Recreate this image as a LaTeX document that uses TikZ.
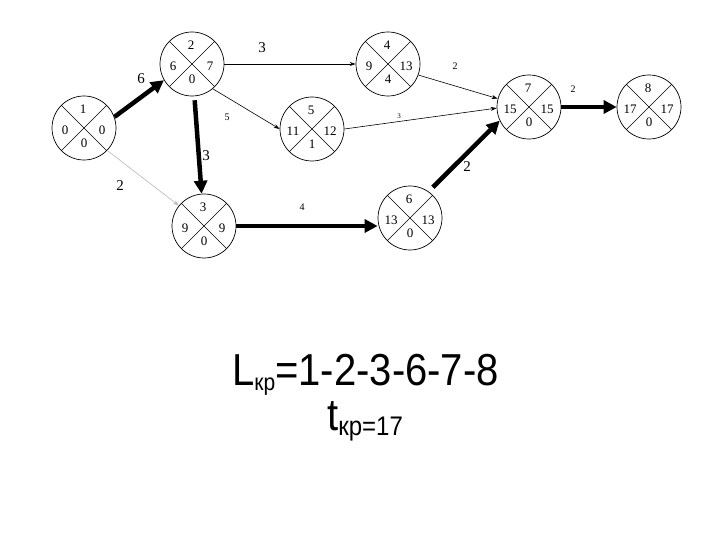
\documentclass[tikz,border=0pt]{standalone}
\usepackage{fontspec}
\setmainfont{Liberation Serif}
\newfontfamily\arialfont{Liberation Sans}
\usetikzlibrary{arrows.meta, calc}
\tikzset{
  event/.style    = {circle, draw, line width=0.7pt, minimum size=64pt, inner sep=0pt},
  evlbl/.style    = {font=\fontsize{13}{13}\selectfont, inner sep=0pt},
  work/.style     = {line width=0.6pt, -{Stealth[length=6pt, width=4pt]}},
  critwork/.style = {line width=4.5pt, -{Triangle[length=13pt, width=13pt]}},
  wlbl/.style     = {font=\fontsize{10}{10}\selectfont, inner sep=0pt},
  bigwlbl/.style  = {font=\fontsize{15}{15}\selectfont, inner sep=0pt},
  tinywlbl/.style = {font=\fontsize{7}{7}\selectfont, inner sep=0pt},
}
% event circle: name, position, number, early, late, reserve
\newcommand{\evnode}[6]{%
  \node[event] (#1) at (#2) {};
  \draw[line width=0.6pt] (#1.north west) -- (#1.south east)
                          (#1.north east) -- (#1.south west);
  \node[evlbl] (#1-n) at ($(#1)+(-1,-19)$) {#3};
  \node[evlbl] (#1-e) at ($(#1)+(-19,2)$) {#4};
  \node[evlbl] (#1-l) at ($(#1)+(18,2)$) {#5};
  \node[evlbl] (#1-r) at ($(#1)+(0,15)$) {#6};
}

\begin{document}
\begin{tikzpicture}[x=1pt, y=-1pt]
  \useasboundingbox[fill=white] (0,0) rectangle (720,540);
  % events
  \evnode{n1}{84,128}{1}{0}{0}{0}
  \evnode{n2}{192,64}{2}{6}{7}{0}
  \evnode{n3}{204,226}{3}{9}{9}{0}
  \evnode{n4}{388,64}{4}{9}{13}{4}
  \evnode{n5}{312,129}{5}{11}{12}{1}
  \evnode{n6}{410,218}{6}{13}{13}{0}
  \evnode{n7}{529,107}{7}{15}{15}{0}
  \evnode{n8}{649,107}{8}{17}{17}{0}
  % critical path
  \draw[critwork] (n1.20) -- (n2.210);
  \draw[critwork, shorten <=4pt] (n2) -- (n3);
  \draw[critwork] (n3.east) -- (n3.east -| n6.west);
  \draw[critwork, shorten <=6pt] (n6.55) -- (n7.205);
  \draw[critwork] (n7) -- (n8);
  % other works
  \draw[work] (n2) -- (n4);
  \draw[work] (n2.-50) -- (n5.west);
  \draw[work, gray!55] (n1.-44) -- (n3.141);
  \draw[work] (n4.-20) -- (n7.165);
  \draw[work] (n5.east) -- (n7.182);
  % durations
  \node[bigwlbl] (d12) at (141,79) {6};
  \node[bigwlbl] (d24) at (262,48) {3};
  \node[wlbl] (d25) at (227,117) {5};
  \node[bigwlbl] (d23) at (206,156) {3};
  \node[bigwlbl] (d13) at (120,186) {2};
  \node[wlbl] (d36) at (302,207) {4};
  \node[wlbl] (d47) at (455,66) {2};
  \node[tinywlbl] (d57) at (399,116) {3};
  \node[bigwlbl] (d67) at (467,167) {2};
  \node[wlbl] (d78) at (573,89) {2};
  % critical path and its length
  \node[anchor=base west, inner sep=0pt] (lkr) at (232,385)
    {\scalebox{1}[1.12]{\arialfont\fontsize{40}{44}\selectfont
     L\raisebox{-4.5pt}{\fontsize{21}{22}\selectfont кр}=1-2-3-6-7-8}};
  \node[anchor=base west, inner sep=0pt] (tkr) at (327,430)
    {\scalebox{1}[1.12]{\arialfont\fontsize{40}{44}\selectfont
     t\raisebox{-4.5pt}{\fontsize{24}{26}\selectfont кр=17}}};
\end{tikzpicture}
\end{document}
